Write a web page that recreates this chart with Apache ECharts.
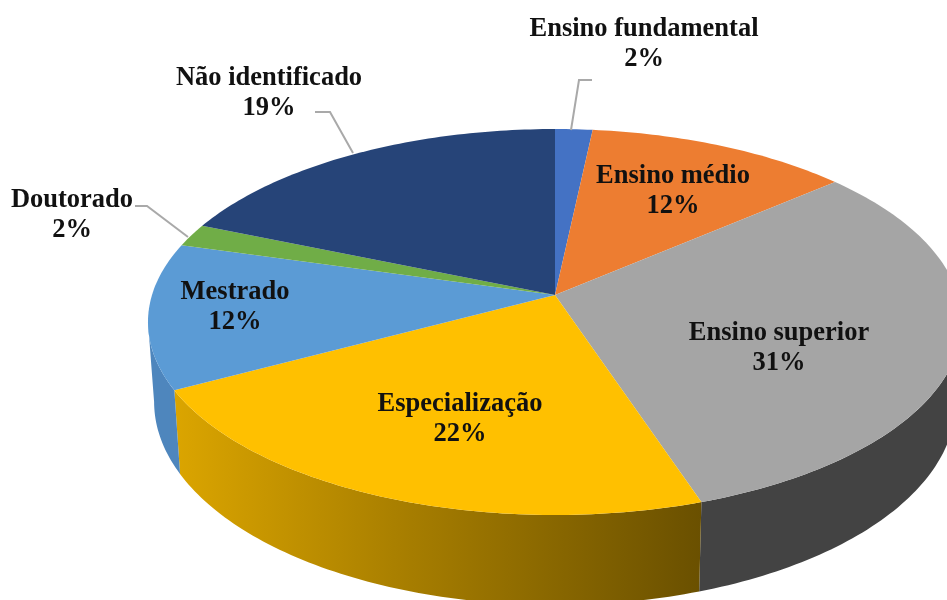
<!DOCTYPE html>
<html>
<head>
<meta charset="utf-8">
<style>
html, body { margin: 0; background: #fff; }
#chart { width: 947px; height: 600px; }
</style>
<script src="https://cdn.jsdelivr.net/npm/echarts@6/dist/echarts.min.js"></script>
</head>
<body>
<div id="chart"></div>
<script>
// dados (fatias, sentido horário a partir do topo)
const categories = ['Ensino fundamental', 'Ensino médio', 'Ensino superior', 'Especialização', 'Mestrado', 'Doutorado', 'Não identificado'];
const values = [1.7, 12, 31.2, 22.3, 12.2, 1.9, 18.7];
const percentLabels = ['2%', '12%', '31%', '22%', '12%', '2%', '19%'];

const topColors = ['#4472c4', '#ed7d31', '#a5a5a5', '#ffc000', '#5b9bd5', '#70ad47', '#264478'];
const wallColors = ['#3a62a8', '#c96a2a', '#434343', null, '#4e86bd', '#5f933c', '#203a66'];

// centro de cada rótulo, [x, y] da primeira linha
const labelPlaces = [[644, 29], [673, 176], [779, 333], [460, 404], [235, 292], [72, 200], [269, 78]];
// linhas de chamada
const leaders = [
    [[592, 80], [579, 80], [571, 130]],
    [[135, 206], [147, 206], [188, 237]],
    [[315, 112], [330, 112], [353, 153]]
];

// projeção do disco em perspectiva
const cx = 555, cy = 295, radiusX = 403, radiusY = 189.2, persp = -0.14;
// parte da borda que fica visível na frente (entre os dois extremos em x)
const wallStart = Math.acos(persp) / (2 * Math.PI);
const wallEnd = 1 - wallStart;

function rimPoint(pct) {
    const a = pct * 2 * Math.PI;
    const u = Math.sin(a), v = -Math.cos(a);
    const d = 1 + persp * v;
    return { x: cx + radiusX * u / d, y: cy + radiusY * v / d, v: v };
}

function lowerPoint(pct) {
    const p = rimPoint(pct);
    return [cx + (p.x - cx) * 0.985, p.y + 78 + 12 * p.v];
}

function arcPcts(start, end) {
    const list = [];
    const steps = Math.max(2, Math.ceil((end - start) * 360));
    for (let i = 0; i <= steps; i++) {
        list.push(start + (end - start) * i / steps);
    }
    return list;
}

// início e fim acumulados de cada fatia
const total = values.reduce((s, v) => s + v, 0);
let acc = 0;
const sliceData = values.map((v, i) => {
    const row = [acc / total, (acc + v) / total, i];
    acc += v;
    return row;
});

const yellowWall = {
    type: 'linear', x: 0, y: 0, x2: 1, y2: 0,
    colorStops: [
        { offset: 0, color: '#dba500' },
        { offset: 0.45, color: '#a67d00' },
        { offset: 1, color: '#6a5000' }
    ]
};

function renderWall(params, api) {
    const start = Math.max(api.value(0), wallStart);
    const end = Math.min(api.value(1), wallEnd);
    if (end <= start) {
        return null;
    }
    const arc = arcPcts(start, end);
    const upper = arc.map(p => { const r = rimPoint(p); return [r.x, r.y]; });
    const lower = arc.map(lowerPoint).reverse();
    const i = api.value(2);
    return {
        type: 'polygon',
        shape: { points: upper.concat(lower) },
        style: { fill: wallColors[i] || yellowWall }
    };
}

function renderTop(params, api) {
    const arc = arcPcts(api.value(0), api.value(1));
    const pts = [[cx, cy]].concat(arc.map(p => { const r = rimPoint(p); return [r.x, r.y]; }));
    return {
        type: 'polygon',
        shape: { points: pts },
        style: { fill: topColors[api.value(2)] }
    };
}

const labelFont = 'bold 26.5px "Liberation Serif", serif';
const graphics = [];
leaders.forEach(line => {
    graphics.push({
        type: 'polyline', z: 5,
        shape: { points: line },
        style: { stroke: '#a9a9a9', lineWidth: 2, fill: null }
    });
});
categories.forEach((name, i) => {
    const place = labelPlaces[i];
    graphics.push({
        type: 'text', z: 6, x: place[0], y: place[1],
        style: { text: name, font: labelFont, fill: '#111', align: 'center', verticalAlign: 'middle' }
    });
    graphics.push({
        type: 'text', z: 6, x: place[0], y: place[1] + 30,
        style: { text: percentLabels[i], font: labelFont, fill: '#111', align: 'center', verticalAlign: 'middle' }
    });
});

const myChart = echarts.init(document.getElementById('chart'));
myChart.setOption({
    backgroundColor: '#fff',
    animation: false,
    graphic: graphics,
    series: [
        { type: 'custom', coordinateSystem: 'none', z: 1, renderItem: renderWall, data: sliceData, silent: true },
        { type: 'custom', coordinateSystem: 'none', z: 2, renderItem: renderTop, data: sliceData, silent: true }
    ]
});
</script>
</body>
</html>
